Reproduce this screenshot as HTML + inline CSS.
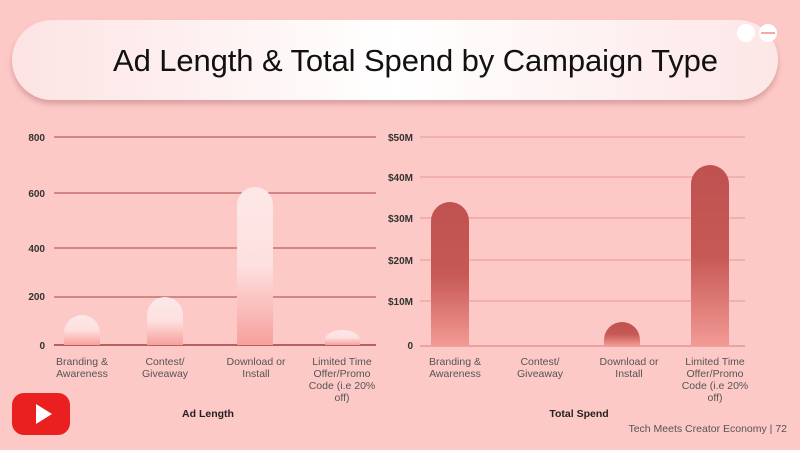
<!DOCTYPE html>
<html><head><meta charset="utf-8"><style>
body{margin:0;width:800px;height:450px;background:#fdc9c7;font-family:"Liberation Sans",sans-serif;overflow:hidden;position:relative}
.pill{position:absolute;left:12px;top:20px;width:766px;height:80px;border-radius:40px;background:linear-gradient(90deg,#fde3e3,#ffffff 50%,#fde6e6);box-shadow:0 4px 6px rgba(150,80,80,.35)}
.title{position:absolute;left:113px;top:43px;font-size:31px;color:#111;letter-spacing:-0.1px;white-space:nowrap}
svg{position:absolute;left:0;top:0}
</style></head><body>
<div class="pill"></div>
<div class="title">Ad Length &amp; Total Spend by Campaign Type</div>
<svg width="800" height="450" viewBox="0 0 800 450">
<defs>
<linearGradient id="lg" x1="0" y1="0" x2="0" y2="1"><stop offset="0" stop-color="#fde8e8"/><stop offset=".5" stop-color="#fde0df"/><stop offset="1" stop-color="#f7a09c"/></linearGradient>
<linearGradient id="rg" x1="0" y1="0" x2="0" y2="1"><stop offset="0" stop-color="#bf5250"/><stop offset=".5" stop-color="#c65855"/><stop offset="1" stop-color="#f39a95"/></linearGradient>
</defs>
<circle cx="746" cy="33" r="9" fill="#fff"/><circle cx="768" cy="33" r="9" fill="#fff"/><rect x="761" y="32" width="14" height="2" fill="#f3a9a6"/>
<g stroke="#b8605f" stroke-width="1.3">
<line x1="54" y1="137" x2="376" y2="137"/><line x1="54" y1="193" x2="376" y2="193"/><line x1="54" y1="248" x2="376" y2="248"/><line x1="54" y1="297" x2="376" y2="297"/><line x1="54" y1="345" x2="376" y2="345" stroke-width="2"/>
</g>
<g stroke="#eba3a1" stroke-width="1.2">
<line x1="420" y1="137" x2="745" y2="137"/><line x1="420" y1="177" x2="745" y2="177"/><line x1="420" y1="218" x2="745" y2="218"/><line x1="420" y1="260" x2="745" y2="260"/><line x1="420" y1="301" x2="745" y2="301"/><line x1="420" y1="346" x2="745" y2="346" stroke-width="2"/>
</g>
<g fill="url(#lg)">
<path d="M64,345V333A18,18 0 0 1 100,333V345Z"/>
<path d="M147,345V315A18,18 0 0 1 183,315V345Z"/>
<path d="M237,345V205A18,18 0 0 1 273,205V345Z"/>
<path d="M325,345V340A17.5,10 0 0 1 360,340V345Z"/>
</g>
<g fill="url(#rg)">
<path d="M431,346V221A19,19 0 0 1 469,221V346Z"/>
<path d="M604,346V340A18,18 0 0 1 640,340V346Z"/>
<path d="M691,346V184A19,19 0 0 1 729,184V346Z"/>
</g>
<g font-size="10" font-weight="bold" fill="#333" text-anchor="end">
<text x="45" y="141">800</text><text x="45" y="197">600</text><text x="45" y="252">400</text><text x="45" y="300">200</text><text x="45" y="349">0</text>
<text x="413" y="141">$50M</text><text x="413" y="181">$40M</text><text x="413" y="222">$30M</text><text x="413" y="264">$20M</text><text x="413" y="305">$10M</text><text x="413" y="349">0</text>
</g>
<g font-size="10.5" fill="#555" text-anchor="middle">
<text x="82" y="365">Branding &amp;</text><text x="82" y="377">Awareness</text>
<text x="165" y="365">Contest/</text><text x="165" y="377">Giveaway</text>
<text x="256" y="365">Download or</text><text x="256" y="377">Install</text>
<text x="342" y="365">Limited Time</text><text x="342" y="377">Offer/Promo</text><text x="342" y="389">Code (i.e 20%</text><text x="342" y="401">off)</text>
<text x="455" y="365">Branding &amp;</text><text x="455" y="377">Awareness</text>
<text x="540" y="365">Contest/</text><text x="540" y="377">Giveaway</text>
<text x="629" y="365">Download or</text><text x="629" y="377">Install</text>
<text x="715" y="365">Limited Time</text><text x="715" y="377">Offer/Promo</text><text x="715" y="389">Code (i.e 20%</text><text x="715" y="401">off)</text>
</g>
<g font-size="10.5" font-weight="bold" fill="#222" text-anchor="middle">
<text x="208" y="417">Ad Length</text><text x="579" y="417">Total Spend</text>
</g>
<text x="787" y="432" font-size="10.5" fill="#555" text-anchor="end">Tech Meets Creator Economy | 72</text>
<rect x="12" y="393" width="58" height="42" rx="12" fill="#e9201f"/>
<path d="M36,404L52,414L36,424Z" fill="#fff"/>
</svg>
</body></html>
